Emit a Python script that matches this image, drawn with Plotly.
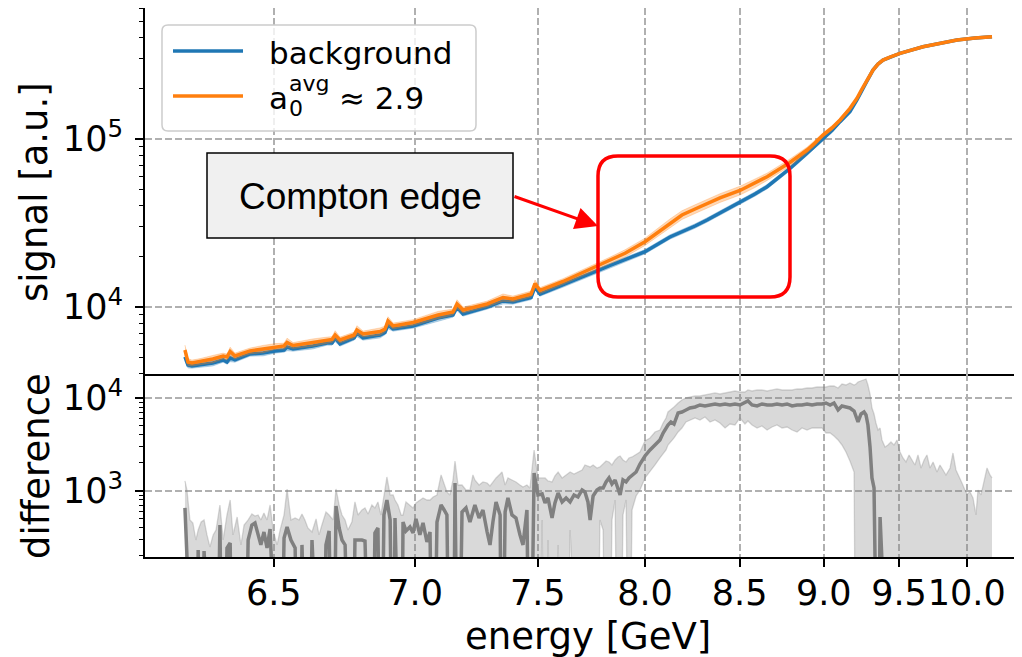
import plotly.graph_objects as go

# ---------------- data ----------------
energy = [6.221, 6.230, 6.242, 6.267, 6.306, 6.338, 6.350, 6.360, 6.375, 6.423,
          6.465, 6.504, 6.534, 6.544, 6.564, 6.631, 6.680, 6.697, 6.708, 6.725,
          6.775, 6.785, 6.807, 6.869, 6.887, 6.898, 6.917, 6.992, 7.088, 7.147,
          7.163, 7.187, 7.285, 7.351, 7.393, 7.471, 7.488, 7.510,
          7.612, 7.768, 7.830, 7.902, 8.000, 8.126, 8.188, 8.257, 8.321,
          8.391, 8.502, 8.587, 8.657, 8.792, 8.896, 8.945, 8.995, 9.052, 9.104,
          9.168, 9.214, 9.247, 9.281, 9.321, 9.355, 9.389, 9.437, 9.507, 9.671,
          9.796, 9.925, 10.065, 10.200]

signal_background = [5040, 4516, 4454, 4516, 4642, 4836, 4706, 4970, 4836, 5252,
                     5325, 5473, 5546, 5779, 5623, 5860, 6107, 6107, 6539, 6024,
                     6539, 7003, 6539, 6813, 7051, 7814, 7396, 7707, 8601, 8964,
                     10000, 9085, 10000, 10860, 10710, 11390, 13150, 11950,
                     13520, 16380, 17660, 19230, 21340, 26110, 27950, 30350, 32960,
                     36260, 41880, 47060, 52020, 66730, 82200, 90850, 101000, 112300, 126800,
                     145400, 170700, 195700, 222000, 257400, 279500, 295300, 307700, 323700, 354300,
                     372800, 388400, 399200, 406300]

signal_a0 = [5546, 4706, 4642, 4738, 4903, 5109, 5040, 5435, 5109, 5473,
             5623, 5819, 5860, 6149, 5899, 6149, 6363, 6404, 6813, 6363,
             6813, 7298, 6907, 7149, 7396, 8254, 7707, 8085, 8964, 9337,
             10420, 9597, 10420, 11390, 11160, 11950, 13800, 12540,
             14180, 17420, 19050, 20870, 24470, 31500, 35290, 38310, 41420,
             44560, 49380, 54710, 59650, 72460, 86000, 94660, 105600, 116300, 129800,
             152300, 174700, 198500, 224500, 257400, 279500, 295300, 307700, 323700, 354300,
             372800, 388400, 399200, 406300]

rel_err_background = [0.05, 0.04, 0.03, 0.03, 0.04, 0.03, 0.03, 0.05, 0.03, 0.03,
                      0.04, 0.03, 0.03, 0.05, 0.03, 0.04, 0.03, 0.03, 0.05, 0.03,
                      0.03, 0.05, 0.03, 0.04, 0.03, 0.05, 0.03, 0.03, 0.04, 0.03,
                      0.05, 0.03, 0.03, 0.04, 0.03, 0.03, 0.04, 0.03,
                      0.03, 0.03, 0.03, 0.03, 0.03, 0.03, 0.03, 0.03, 0.03,
                      0.03, 0.03, 0.03, 0.03, 0.03, 0.03, 0.03, 0.025, 0.025, 0.02,
                      0.015, 0.015, 0.015, 0.015, 0.015, 0.015, 0.015, 0.015, 0.015, 0.015,
                      0.015, 0.015, 0.015, 0.015]

rel_err_a0 = [0.07, 0.05, 0.04, 0.04, 0.05, 0.04, 0.04, 0.06, 0.04, 0.04,
              0.05, 0.04, 0.04, 0.06, 0.04, 0.05, 0.04, 0.04, 0.06, 0.04,
              0.04, 0.06, 0.04, 0.05, 0.04, 0.06, 0.04, 0.04, 0.05, 0.04,
              0.06, 0.04, 0.04, 0.05, 0.04, 0.04, 0.05, 0.04,
              0.04, 0.04, 0.04, 0.05, 0.05, 0.06, 0.06, 0.06, 0.06,
              0.06, 0.06, 0.06, 0.05, 0.05, 0.04, 0.04, 0.03, 0.03, 0.03,
              0.02, 0.02, 0.02, 0.02, 0.015, 0.015, 0.015, 0.015, 0.015, 0.015,
              0.015, 0.015, 0.015, 0.015]

# difference panel (values <= 0 on a log axis are shown clipped at 1)
diff_energy = [6.221, 6.227, 6.236, 6.245, 6.254, 6.261, 6.270, 6.279, 6.288, 6.297,
               6.307, 6.316, 6.328, 6.338, 6.350, 6.360, 6.369, 6.382, 6.394, 6.404,
               6.417, 6.429, 6.439, 6.449, 6.458, 6.468, 6.478, 6.488, 6.498, 6.511,
               6.521, 6.534, 6.544, 6.557, 6.571, 6.584, 6.594, 6.604, 6.614, 6.628,
               6.642, 6.652, 6.662, 6.676, 6.687, 6.701, 6.711, 6.722, 6.732, 6.743,
               6.753, 6.767, 6.778, 6.789, 6.803, 6.814, 6.825, 6.839, 6.850, 6.861,
               6.872, 6.883, 6.894, 6.906, 6.917, 6.924, 6.935, 6.947, 6.954, 6.965,
               6.980, 6.992, 7.003, 7.018, 7.030, 7.045, 7.057, 7.069, 7.084, 7.100,
               7.112, 7.123, 7.135, 7.147, 7.155, 7.167, 7.183, 7.199, 7.215, 7.227,
               7.235, 7.252, 7.268, 7.285, 7.297, 7.309, 7.322, 7.339, 7.347, 7.360,
               7.372, 7.389, 7.406, 7.423, 7.436, 7.453, 7.466, 7.484, 7.501, 7.519,
               7.532, 7.545, 7.563, 7.576, 7.590, 7.608, 7.626, 7.644, 7.662, 7.680,
               7.699, 7.712, 7.726, 7.736, 7.750, 7.768, 7.782, 7.797, 7.811, 7.825,
               7.839, 7.854, 7.868, 7.878, 7.892, 7.907, 7.921, 7.936, 7.956, 7.975,
               8.000, 8.025, 8.050, 8.075, 8.091, 8.106, 8.116, 8.131, 8.147, 8.168,
               8.188, 8.209, 8.230, 8.257, 8.283, 8.310, 8.337, 8.364, 8.391, 8.419,
               8.446, 8.474, 8.502, 8.530, 8.547, 8.570, 8.599, 8.627, 8.657, 8.686,
               8.715, 8.745, 8.775, 8.805, 8.835, 8.865, 8.896, 8.927, 8.958, 8.989,
               9.014, 9.040, 9.065, 9.091, 9.116, 9.142, 9.168, 9.195, 9.208, 9.221,
               9.241, 9.261, 9.274, 9.287, 9.301, 9.314, 9.328, 9.341, 9.355, 9.369,
               9.382, 9.403, 9.423, 9.444, 9.465, 9.486, 9.507, 9.528, 9.549, 9.571,
               9.592, 9.613, 9.635, 9.657, 9.679, 9.700, 9.722, 9.745, 9.774, 9.796,
               9.819, 9.841, 9.872, 9.894, 9.917, 9.940, 9.963, 9.986, 10.002, 10.025,
               10.049, 10.072, 10.088, 10.112, 10.136, 10.160, 10.184, 10.200]

diff_mean = [657, 1, 1, 1, 1, 232, 1, 226, 1, 1,
             1, 1, 431, 1, 244, 276, 1, 1, 1, 1,
             297, 431, 453, 337, 263, 362, 244, 390, 1, 1,
             1, 312, 410, 297, 244, 1, 263, 1, 1, 297,
             1, 1, 1, 263, 372, 1, 690, 400, 297, 263,
             1, 1, 297, 297, 297, 290, 1, 1, 354, 400,
             1, 552, 800, 488, 1, 512, 1, 1, 464, 372,
             410, 354, 500, 337, 453, 283, 362, 1, 464, 707,
             625, 552, 1, 1, 1219, 1, 595, 657, 464, 595,
             707, 512, 625, 362, 263, 464, 762, 552, 1, 595,
             841, 552, 512, 337, 263, 625, 1, 1561, 906, 929,
             743, 841, 512, 743, 952, 762, 841, 762, 906, 862,
             1025, 976, 762, 488, 884, 1025, 1077, 1077, 1250, 1380,
             1189, 1313, 1077, 906, 1313, 1250, 1380, 1486, 1600, 1951,
             2379, 2760, 3124, 3536, 4205, 4877, 5125, 5520, 5253, 6898,
             7071, 7430, 7806, 8002, 8408, 8203, 8408, 8619, 8408, 8619,
             8408, 8619, 8408, 8835, 9284, 8408, 8203, 8619, 8408, 8408,
             8619, 8408, 8619, 8203, 8408, 8408, 8619, 8408, 8619, 8619,
             8835, 8408, 8835, 7430, 8203, 8002, 7806, 7248, 6248, 5520,
             6729, 7071, 6565, 5125, 2973, 1380, 1077, 1, 1, 525,
             1, 1, 1, 1, 1, 1, 1, 1, 1, 1,
             1, 1, 1, 1, 1, 1, 1, 1, 1, 1,
             1, 1, 1, 1, 1, 1, 1, 1, 1, 1,
             1, 1, 1, 1, 1, 1, 1, 1]

diff_upper = [1281, 1025, 488, 453, 297, 381, 464, 488, 337, 250,
              337, 381, 707, 297, 552, 800, 337, 525, 263, 431,
              488, 566, 538, 552, 488, 580, 488, 707, 381, 263,
              381, 552, 1051, 488, 512, 488, 566, 488, 400, 362,
              500, 337, 431, 595, 552, 488, 1051, 707, 552, 488,
              381, 464, 762, 552, 625, 657, 566, 707, 657, 762,
              552, 841, 1414, 906, 906, 800, 707, 552, 552, 762,
              707, 657, 743, 800, 841, 800, 800, 862, 906, 1486,
              1160, 976, 906, 1313, 2102, 1160, 1160, 1025, 1025, 1486,
              1313, 1160, 1250, 1219, 1132, 1250, 1380, 1523, 1600, 1160,
              1380, 1313, 1250, 1160, 1104, 1160, 1077, 2760, 1380, 1380,
              1380, 1281, 1250, 1450, 1600, 1380, 1486, 1600, 1523, 1600,
              1682, 1904, 1857, 1812, 1904, 1767, 1812, 1951, 2102, 2050,
              1904, 2154, 2321, 2379, 2154, 2050, 2264, 2321, 2500, 2627,
              3450, 3716, 4310, 4529, 5385, 6095, 7071, 7430, 8002, 8835,
              9518, 10000, 10250, 10510, 10510, 10770, 11040, 11320, 11040, 11320,
              11600, 11890, 11600, 11600, 12190, 11890, 12190, 12190, 11890, 12190,
              12500, 12190, 12190, 12190, 12500, 12500, 12810, 12810, 13130, 13130,
              13130, 13460, 13460, 12810, 14140, 13800, 14500, 13800, 14140, 14860,
              15230, 15610, 16010, 13800, 11040, 7806, 6729, 5385, 4529, 4758,
              3536, 2973, 3124, 3366, 3124, 3536, 2627, 2264, 2050, 2439,
              2154, 1904, 2439, 1767, 2154, 2439, 1767, 2050, 1600, 1904,
              1682, 1486, 1767, 2562, 1682, 1450, 1219, 1025, 929, 976,
              841, 552, 1025, 906, 1250, 1767, 1486, 1380]

diff_lower = [1, 1, 1, 1, 1, 1, 1, 1, 1, 1,
              1, 1, 1, 1, 1, 1, 1, 1, 1, 1,
              1, 1, 1, 1, 1, 1, 1, 1, 1, 1,
              1, 1, 1, 1, 1, 1, 1, 1, 1, 1,
              1, 1, 1, 1, 1, 1, 1, 1, 1, 1,
              1, 1, 1, 1, 1, 1, 1, 1, 1, 1,
              1, 1, 1, 1, 1, 1, 1, 1, 1, 1,
              1, 1, 1, 1, 1, 1, 1, 1, 1, 1,
              1, 1, 1, 1, 1, 1, 1, 1, 1, 1,
              1, 1, 1, 1, 1, 1, 1, 1, 1, 1,
              1, 1, 1, 1, 1, 1, 1, 1, 1, 488,
              1, 297, 1, 1, 263, 1, 1, 381, 1, 1,
              1, 1, 1, 1, 1, 1, 488, 381, 1, 1,
              488, 800, 1, 1, 552, 800, 1, 625, 884, 1025,
              1380, 1600, 1904, 2264, 2500, 2760, 3124, 3366, 3716, 4310,
              4758, 5520, 5800, 6095, 5800, 6248, 5520, 5800, 5385, 4758,
              5253, 5125, 6095, 5253, 5658, 5125, 4758, 5000, 4529, 4877,
              5125, 4758, 4877, 4529, 4310, 4758, 4529, 4758, 4758, 4758,
              4205, 4205, 3904, 3536, 3124, 2627, 2102, 1600, 1, 1,
              1, 1, 1, 1, 1, 1, 1, 1, 1, 1,
              1, 1, 1, 1, 1, 1, 1, 1, 1, 1,
              1, 1, 1, 1, 1, 1, 1, 1, 1, 1,
              1, 1, 1, 1, 1, 1, 1, 1, 1, 1,
              1, 1, 1, 1, 1, 1, 1, 1]

tick_energies = [6.5, 7.0, 7.5, 8.0, 8.5, 9.0, 9.5, 10.0]
tick_labels = ["6.5", "7.0", "7.5", "8.0", "8.5", "9.0", "9.5", "10.0"]

assert len(energy) == len(signal_background) == len(signal_a0) == len(rel_err_background) == len(rel_err_a0)
assert len(diff_energy) == len(diff_mean) == len(diff_upper) == len(diff_lower)

# ---------------- styling ----------------
BLUE = "#1f77b4"
ORANGE = "#ff7f0e"
BLUE_BAND = "rgba(31,119,180,0.3)"
ORANGE_BAND = "rgba(255,127,14,0.3)"
GRAY = "#808080"
GRAY_BAND = "rgba(128,128,128,0.3)"
FONT = "DejaVu Sans"
GRID = dict(showgrid=True, gridcolor="#b0b0b0", gridwidth=1.5, griddash="7px,3px")

# page-pixel layout (the html body adds an 8 px offset, compensated below)
PAGE_W, PAGE_H = 1022, 657
BODY = 8
L, R, T, B = 145, 1022, 8, 557
SPLIT_PX = 374
W, H = PAGE_W - BODY, PAGE_H - BODY


def px(x):
    return (x - L) / (R - L)


def py(y):
    return (B - y) / (B - T)


def rounded_path(x0, y0, x1, y1, r):
    pts = [
        ("M", [(x0 + r, y0)]), ("L", [(x1 - r, y0)]), ("Q", [(x1, y0), (x1, y0 + r)]),
        ("L", [(x1, y1 - r)]), ("Q", [(x1, y1), (x1 - r, y1)]),
        ("L", [(x0 + r, y1)]), ("Q", [(x0, y1), (x0, y1 - r)]),
        ("L", [(x0, y0 + r)]), ("Q", [(x0, y0), (x0 + r, y0)]),
    ]
    s = ""
    for cmd, pl in pts:
        s += cmd + " ".join(f"{px(a):.5f},{py(b):.5f}" for a, b in pl) + " "
    return s + "Z"


def inv(seq):
    return [1.0 / e for e in seq]


x_top = inv(energy)
x_diff = inv(diff_energy)

bg_lo = [v * (1 - e) for v, e in zip(signal_background, rel_err_background)]
bg_hi = [v * (1 + e) for v, e in zip(signal_background, rel_err_background)]
a0_lo = [v * (1 - e) for v, e in zip(signal_a0, rel_err_a0)]
a0_hi = [v * (1 + e) for v, e in zip(signal_a0, rel_err_a0)]

fig = go.Figure()

# top panel: background band + line
fig.add_trace(go.Scatter(x=x_top, y=bg_lo, mode="lines", line=dict(color=BLUE_BAND, width=0.8),
                         showlegend=False, xaxis="x", yaxis="y", hoverinfo="skip"))
fig.add_trace(go.Scatter(x=x_top, y=bg_hi, mode="lines", fill="tonexty", fillcolor=BLUE_BAND,
                         line=dict(color=BLUE_BAND, width=0.8), showlegend=False,
                         xaxis="x", yaxis="y", hoverinfo="skip"))
fig.add_trace(go.Scatter(x=x_top, y=signal_background, mode="lines", name="background",
                         line=dict(color=BLUE, width=3.5), showlegend=False, xaxis="x", yaxis="y"))
# top panel: a0 band + line
fig.add_trace(go.Scatter(x=x_top, y=a0_lo, mode="lines", line=dict(color=ORANGE_BAND, width=0.8),
                         showlegend=False, xaxis="x", yaxis="y", hoverinfo="skip"))
fig.add_trace(go.Scatter(x=x_top, y=a0_hi, mode="lines", fill="tonexty", fillcolor=ORANGE_BAND,
                         line=dict(color=ORANGE_BAND, width=0.8), showlegend=False,
                         xaxis="x", yaxis="y", hoverinfo="skip"))
fig.add_trace(go.Scatter(x=x_top, y=signal_a0, mode="lines", name="a0 avg ~ 2.9",
                         line=dict(color=ORANGE, width=3.5), showlegend=False, xaxis="x", yaxis="y"))

# bottom panel: difference band + mean
fig.add_trace(go.Scatter(x=x_diff, y=diff_lower, mode="lines", line=dict(color=GRAY_BAND, width=1.3),
                         showlegend=False, xaxis="x2", yaxis="y2", hoverinfo="skip"))
fig.add_trace(go.Scatter(x=x_diff, y=diff_upper, mode="lines", fill="tonexty", fillcolor=GRAY_BAND,
                         line=dict(color=GRAY_BAND, width=1.3), showlegend=False,
                         xaxis="x2", yaxis="y2", hoverinfo="skip"))
fig.add_trace(go.Scatter(x=x_diff, y=diff_mean, mode="lines", name="difference",
                         line=dict(color=GRAY, width=3.5), showlegend=False, xaxis="x2", yaxis="y2"))

# axis calibration: pixel = 2253.75 - 12870 / E  (axis linear in 1/E, energy increasing to the right)
x_range = [(2253.75 - L) / 12870.0, (2253.75 - R) / 12870.0]
tickvals = inv(tick_energies)
split = (B - SPLIT_PX) / (B - T)

minor_top = [m * 10 ** k for k in (3, 4, 5) for m in range(2, 10)]
minor_bot = [m * 10 ** k for k in (2, 3, 4) for m in range(2, 10)]

axis_common = dict(linecolor="black", linewidth=2, zeroline=False, automargin=False, **GRID)
tickfont = dict(family=FONT, size=35, color="black")

fig.update_layout(
    width=W, height=H,
    margin=dict(l=L - BODY, r=PAGE_W - R, t=T - BODY, b=PAGE_H - B, pad=0, autoexpand=False),
    paper_bgcolor="white", plot_bgcolor="white",
    font=dict(family=FONT, color="black"),
    showlegend=False,
    xaxis=dict(domain=[0, 1], anchor="y", range=x_range, tickmode="array", tickvals=tickvals,
               showticklabels=False, ticks="", showline=True, mirror=True, matches="x2",
               **axis_common),
    yaxis=dict(domain=[split, 1], anchor="x", type="log", range=[3.601, 5.780],
               tickmode="array", tickvals=[1e4, 1e5], ticktext=["10<sup>4</sup>", "10<sup>5</sup>"],
               ticks="outside", ticklen=8, tickwidth=1.6, tickcolor="black", tickfont=tickfont,
               showline=True, mirror=False, ticklabelstandoff=5, tickangle=0,
               minor=dict(tickmode="array", tickvals=minor_top, ticks="outside", ticklen=4,
                          tickwidth=1.2, tickcolor="black", showgrid=False),
               **axis_common),
    xaxis2=dict(domain=[0, 1], anchor="y2", range=x_range, tickmode="array", tickvals=tickvals,
                ticktext=tick_labels, ticks="outside", ticklen=8, tickwidth=1.6, tickcolor="black",
                tickfont=tickfont, showline=True, mirror=False, ticklabelstandoff=-4, tickangle=0,
                **axis_common),
    yaxis2=dict(domain=[0, split], anchor="x2", type="log", range=[2.290, 4.258],
                tickmode="array", tickvals=[1e3, 1e4], ticktext=["10<sup>3</sup>", "10<sup>4</sup>"],
                ticks="outside", ticklen=8, tickwidth=1.6, tickcolor="black", tickfont=tickfont,
                showline=True, mirror=False, ticklabelstandoff=5, tickangle=0,
                minor=dict(tickmode="array", tickvals=minor_bot, ticks="outside", ticklen=4,
                           tickwidth=1.2, tickcolor="black", showgrid=False),
                **axis_common),
)

shapes = []
# legend frame and samples
shapes.append(dict(type="path", xref="paper", yref="paper", path=rounded_path(162, 25, 476, 131, 6),
                   fillcolor="rgba(255,255,255,0.8)", line=dict(color="#cccccc", width=1.5), layer="above"))
shapes.append(dict(type="line", xref="paper", yref="paper", x0=px(173), x1=px(243), y0=py(51), y1=py(51),
                   line=dict(color=BLUE, width=3.5), layer="above"))
shapes.append(dict(type="line", xref="paper", yref="paper", x0=px(173), x1=px(243), y0=py(96), y1=py(96),
                   line=dict(color=ORANGE, width=3.5), layer="above"))
# "Compton edge" text box
shapes.append(dict(type="rect", xref="paper", yref="paper", x0=px(207), x1=px(513), y0=py(153), y1=py(238),
                   fillcolor="#f0f0f0", line=dict(color="black", width=1.5), layer="above"))
# red rounded highlight box
shapes.append(dict(type="path", xref="paper", yref="paper", path=rounded_path(598, 156, 790, 297, 20),
                   line=dict(color="#ff0000", width=3.5), layer="above"))
fig.update_layout(shapes=shapes)

ann = []
# axis titles
ann.append(dict(text="signal [a.u.]", x=px(35), y=py(192), xref="paper", yref="paper", showarrow=False,
                textangle=-90, xanchor="center", yanchor="middle", font=dict(family=FONT, size=37)))
ann.append(dict(text="difference", x=px(36), y=py(466), xref="paper", yref="paper", showarrow=False,
                textangle=-90, xanchor="center", yanchor="middle", font=dict(family=FONT, size=37)))
ann.append(dict(text="energy [GeV]", x=px(588), y=py(636), xref="paper", yref="paper", showarrow=False,
                xanchor="center", yanchor="middle", font=dict(family=FONT, size=37)))
# legend texts
ann.append(dict(text="background", x=px(267), y=py(53), xref="paper", yref="paper", showarrow=False,
                xanchor="left", yanchor="middle", font=dict(family=FONT, size=31)))
ann.append(dict(text="a", x=px(267), y=py(98), xref="paper", yref="paper", showarrow=False,
                xanchor="left", yanchor="middle", font=dict(family=FONT, size=31)))
ann.append(dict(text="avg", x=px(287), y=py(83), xref="paper", yref="paper", showarrow=False,
                xanchor="left", yanchor="middle", font=dict(family=FONT, size=22)))
ann.append(dict(text="0", x=px(287), y=py(108), xref="paper", yref="paper", showarrow=False,
                xanchor="left", yanchor="middle", font=dict(family=FONT, size=22)))
ann.append(dict(text="≈ 2.9", x=px(337), y=py(98), xref="paper", yref="paper", showarrow=False,
                xanchor="left", yanchor="middle", font=dict(family=FONT, size=31)))
# Compton edge label and arrow
ann.append(dict(text="Compton edge", x=px(360), y=py(196), xref="paper", yref="paper", showarrow=False,
                xanchor="center", yanchor="middle", font=dict(family="Liberation Sans", size=37)))
ann.append(dict(text="", x=px(598), y=py(226), xref="paper", yref="paper", showarrow=True,
                ax=-85, ay=-30, arrowhead=2, arrowsize=1.5, arrowwidth=3, arrowcolor="#ff0000",
                standoff=0, startstandoff=0))
fig.update_layout(annotations=ann)

fig.write_html("out.html")
